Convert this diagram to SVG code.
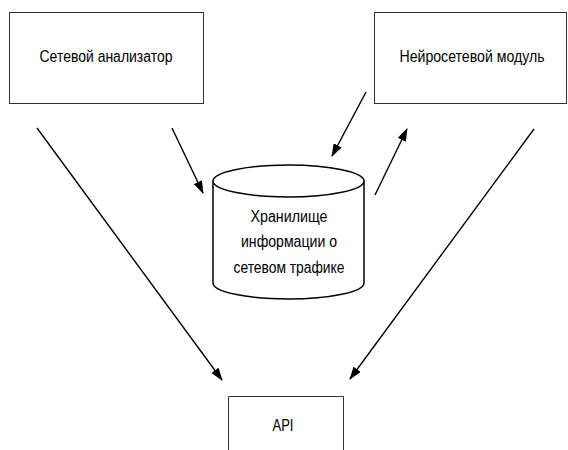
<svg xmlns="http://www.w3.org/2000/svg" width="568" height="450" viewBox="0 0 568 450">
<defs>
<style>
.box{fill:#fff;stroke:#333;stroke-width:1}
.cyl{fill:#fff;stroke:#000;stroke-width:1.5}
.lbl{font-family:"Liberation Sans",Arial,sans-serif;font-size:16px;fill:#000;text-anchor:middle}
.edge{stroke:#000;stroke-width:1.4;fill:none;marker-end:url(#ah)}
</style>
<marker id="ah" markerUnits="userSpaceOnUse" markerWidth="13" markerHeight="9" refX="12" refY="4.5" orient="auto">
<path d="M0,0 L13,4.5 L0,9 z" fill="#000"/>
</marker>
</defs>
<rect width="568" height="450" fill="#fff"/>
<g id="analyzer">
<rect class="box" x="9.5" y="12.5" width="194" height="91"/>
<text class="lbl" x="106" y="62" textLength="133" lengthAdjust="spacingAndGlyphs">Сетевой анализатор</text>
</g>
<g id="neural">
<rect class="box" x="374.5" y="12.5" width="192" height="91"/>
<text class="lbl" x="472" y="62" textLength="145" lengthAdjust="spacingAndGlyphs">Нейросетевой модуль</text>
</g>
<g id="storage">
<path class="cyl" d="M213,181 L213,283 A75.5,16 0 0 0 364,283 L364,181 A75.5,16 0 0 0 213,181 Z"/>
<path class="cyl" fill="none" d="M213,181 A75.5,16 0 0 0 364,181"/>
<text class="lbl" x="289" y="222" textLength="77" lengthAdjust="spacingAndGlyphs">Хранилище</text>
<text class="lbl" x="289" y="247" textLength="96" lengthAdjust="spacingAndGlyphs">информации о</text>
<text class="lbl" x="289" y="273" textLength="111" lengthAdjust="spacingAndGlyphs">сетевом трафике</text>
</g>
<g id="api">
<path class="box" d="M228.5,451 L228.5,396.5 L343.5,396.5 L343.5,451"/>
<text class="lbl" x="283" y="431" textLength="21" lengthAdjust="spacingAndGlyphs">API</text>
</g>
<g id="connectors">
<line class="edge" x1="37" y1="128" x2="222" y2="380"/>
<line class="edge" x1="172" y1="128" x2="203" y2="193"/>
<line class="edge" x1="366" y1="92" x2="332" y2="156"/>
<line class="edge" x1="375" y1="195" x2="407" y2="129"/>
<line class="edge" x1="534" y1="129" x2="350" y2="379"/>
</g>
</svg>
